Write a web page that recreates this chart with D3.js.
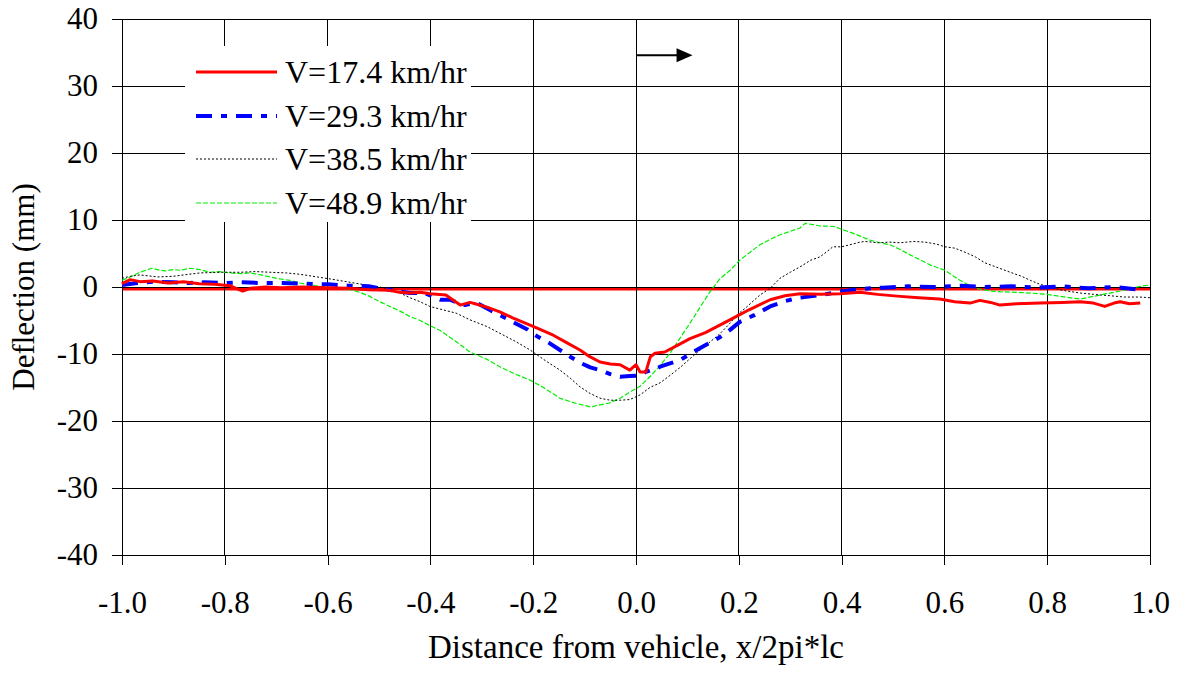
<!DOCTYPE html>
<html>
<head>
<meta charset="utf-8">
<script src="https://cdn.jsdelivr.net/npm/d3@7"></script>
<style>
  body { margin: 0; background: #fff; }
  svg { display: block; font-family: "Liberation Serif", "Times New Roman", serif; }
</style>
</head>
<body>
<svg id="chart" width="1182" height="680"></svg>
<script>
// ---- data ----
const xTicks = [-1.0, -0.8, -0.6, -0.4, -0.2, 0.0, 0.2, 0.4, 0.6, 0.8, 1.0];
const yTicks = [-40, -30, -20, -10, 0, 10, 20, 30, 40];

const seriesNames = ["V=17.4 km/hr", "V=29.3 km/hr", "V=38.5 km/hr", "V=48.9 km/hr"];

const redX = [-1.0, -0.984, -0.965, -0.94, -0.91, -0.88, -0.85, -0.82, -0.79, -0.775, -0.765, -0.75, -0.72, -0.69, -0.65, -0.6, -0.56, -0.52, -0.48, -0.46, -0.44, -0.42, -0.40, -0.37, -0.342, -0.323, -0.313, -0.29, -0.265, -0.24, -0.212, -0.19, -0.161, -0.135, -0.109, -0.09, -0.07, -0.05, -0.031, -0.012, 0.0, 0.008, 0.019, 0.028, 0.037, 0.056, 0.086, 0.105, 0.135, 0.163, 0.19, 0.22, 0.261, 0.29, 0.319, 0.36, 0.397, 0.436, 0.47, 0.514, 0.55, 0.591, 0.62, 0.65, 0.669, 0.69, 0.708, 0.74, 0.786, 0.83, 0.864, 0.89, 0.912, 0.93, 0.942, 0.96, 0.981];
const redY = [0.5, 1.1, 0.8, 0.9, 0.6, 0.8, 0.5, 0.4, 0.2, -0.3, -0.6, -0.2, 0.0, -0.1, 0.0, -0.1, -0.2, -0.4, -0.5, -0.8, -0.9, -0.8, -1.0, -1.2, -2.7, -2.3, -2.5, -3.0, -3.7, -4.6, -5.5, -6.2, -7.2, -8.3, -9.4, -10.4, -11.2, -11.5, -11.6, -12.4, -11.6, -12.7, -12.7, -10.4, -9.9, -9.7, -8.5, -7.7, -6.8, -5.7, -4.6, -3.4, -1.9, -1.3, -1.0, -1.1, -1.0, -0.8, -1.1, -1.4, -1.6, -1.8, -2.2, -2.4, -2.0, -2.3, -2.7, -2.5, -2.4, -2.3, -2.2, -2.4, -2.9, -2.4, -2.2, -2.5, -2.4];

const blueX = [-1.0, -0.97, -0.94, -0.9, -0.87, -0.84, -0.8, -0.77, -0.73, -0.69, -0.65, -0.6, -0.56, -0.52, -0.498, -0.479, -0.459, -0.44, -0.411, -0.381, -0.362, -0.342, -0.333, -0.313, -0.304, -0.285, -0.265, -0.235, -0.212, -0.196, -0.17, -0.148, -0.128, -0.109, -0.089, -0.07, -0.05, -0.031, -0.012, 0.008, 0.018, 0.035, 0.047, 0.066, 0.086, 0.105, 0.125, 0.144, 0.163, 0.183, 0.202, 0.23, 0.261, 0.29, 0.319, 0.358, 0.397, 0.436, 0.48, 0.53, 0.58, 0.63, 0.68, 0.73, 0.78, 0.83, 0.88, 0.93, 0.98];
const blueY = [0.3, 0.6, 0.8, 0.7, 0.6, 0.7, 0.6, 0.7, 0.6, 0.6, 0.5, 0.4, 0.2, 0.1, -0.2, -0.4, -0.7, -0.9, -0.9, -1.9, -1.9, -2.5, -2.7, -2.4, -2.6, -3.4, -4.2, -5.4, -6.3, -7.2, -8.3, -9.4, -10.4, -11.3, -12.0, -12.4, -13.0, -13.4, -13.3, -13.2, -12.7, -12.3, -11.9, -11.4, -10.9, -10.0, -9.1, -8.3, -7.5, -6.4, -5.2, -4.2, -2.9, -2.1, -1.6, -1.2, -0.7, -0.3, -0.1, 0.1, 0.0, 0.2, 0.0, 0.1, -0.1, 0.1, -0.2, 0.0, -0.4];

const blackX = [-1.0, -0.984, -0.965, -0.93, -0.9, -0.87, -0.848, -0.81, -0.77, -0.74, -0.712, -0.68, -0.654, -0.62, -0.595, -0.556, -0.518, -0.498, -0.479, -0.459, -0.44, -0.42, -0.401, -0.381, -0.35, -0.323, -0.29, -0.265, -0.235, -0.206, -0.18, -0.148, -0.128, -0.109, -0.089, -0.07, -0.05, -0.031, -0.012, 0.008, 0.027, 0.047, 0.066, 0.086, 0.105, 0.125, 0.144, 0.163, 0.183, 0.196, 0.215, 0.241, 0.261, 0.28, 0.30, 0.319, 0.34, 0.358, 0.37, 0.383, 0.40, 0.416, 0.436, 0.446, 0.47, 0.494, 0.514, 0.54, 0.562, 0.585, 0.601, 0.62, 0.64, 0.66, 0.679, 0.70, 0.728, 0.75, 0.767, 0.786, 0.805, 0.83, 0.864, 0.89, 0.922, 0.95, 0.98, 1.0];
const blackY = [1.3, 1.6, 1.8, 1.5, 1.6, 1.9, 2.1, 2.2, 2.2, 2.3, 2.2, 2.1, 1.9, 1.5, 1.2, 0.7, 0.2, 0.0, -0.5, -0.9, -1.6, -2.2, -2.9, -3.3, -3.9, -4.9, -5.9, -6.9, -8.1, -9.4, -10.8, -12.4, -13.6, -14.9, -15.9, -16.6, -16.9, -16.9, -16.8, -16.1, -15.0, -14.3, -13.2, -12.0, -10.7, -9.4, -8.2, -7.0, -5.4, -4.2, -3.0, -1.2, -0.2, 1.3, 2.2, 3.0, 4.0, 4.5, 5.2, 6.0, 6.0, 6.3, 6.7, 6.8, 6.6, 6.7, 6.6, 6.8, 6.7, 6.4, 6.0, 5.8, 5.2, 4.5, 3.6, 3.0, 2.2, 1.6, 1.0, 0.4, 0.0, -0.5, -0.9, -1.1, -1.3, -1.5, -1.5, -1.6];

const greenX = [-1.0, -0.984, -0.965, -0.942, -0.926, -0.916, -0.9, -0.887, -0.868, -0.848, -0.829, -0.81, -0.79, -0.77, -0.751, -0.73, -0.712, -0.693, -0.673, -0.654, -0.634, -0.615, -0.595, -0.575, -0.556, -0.537, -0.518, -0.498, -0.479, -0.459, -0.44, -0.42, -0.40, -0.381, -0.362, -0.342, -0.323, -0.29, -0.265, -0.235, -0.206, -0.18, -0.148, -0.12, -0.089, -0.07, -0.051, -0.031, -0.012, 0.008, 0.027, 0.047, 0.066, 0.086, 0.105, 0.125, 0.144, 0.163, 0.183, 0.202, 0.222, 0.241, 0.261, 0.28, 0.30, 0.319, 0.329, 0.345, 0.358, 0.373, 0.387, 0.40, 0.416, 0.436, 0.455, 0.475, 0.494, 0.514, 0.533, 0.552, 0.572, 0.601, 0.63, 0.66, 0.69, 0.708, 0.74, 0.767, 0.80, 0.825, 0.864, 0.903, 0.942, 0.981, 1.0];
const greenY = [1.0, 1.5, 2.2, 2.8, 2.5, 2.4, 2.6, 2.5, 2.8, 2.6, 2.2, 2.3, 2.1, 2.0, 2.1, 1.8, 1.5, 1.2, 1.0, 0.6, 0.3, 0.1, -0.1, -0.2, -0.4, -0.8, -1.4, -2.2, -2.9, -3.6, -4.4, -5.0, -5.8, -6.5, -7.5, -8.6, -9.7, -10.8, -11.9, -13.0, -13.9, -15.0, -16.6, -17.3, -17.9, -17.6, -17.3, -16.6, -15.7, -14.8, -13.4, -11.7, -9.9, -7.6, -5.4, -3.0, -0.7, 1.2, 2.5, 4.0, 5.2, 6.3, 7.1, 7.8, 8.3, 8.8, 9.5, 9.3, 9.1, 9.1, 9.0, 8.6, 8.2, 7.6, 7.0, 6.6, 6.3, 5.6, 4.8, 4.1, 3.3, 2.5, 1.0, -0.2, -0.6, -0.7, -0.8, -0.9, -1.1, -1.4, -1.8, -1.2, -0.6, 0.1, 0.3];

// red reference line along zero
const refX = [-1.0, 1.0];
const refY = [-0.28, -0.28];

// direction arrow (data coords)
const arrowX = [0.0, 0.11];
const arrowY = 34.6;

// ---- layout ----
const serif = "'Liberation Serif', 'Times New Roman', serif";
const svg = d3.select("#chart");
const margin = {top: 19, right: 32, bottom: 125, left: 122};
const width = 1182, height = 680;
const innerW = width - margin.left - margin.right;
const innerH = height - margin.top - margin.bottom;

const xScale = d3.scaleLinear().domain([-1, 1]).range([margin.left, margin.left + innerW]);
const yScale = d3.scaleLinear().domain([-40, 40]).range([margin.top + innerH, margin.top]);

const line = d3.line().x(d => xScale(d[0])).y(d => yScale(d[1]));
const zip = (xs, ys) => xs.map((x, i) => [x, ys[i]]);

// red zero reference sits under the grid
svg.append("path")
    .datum(zip(refX, refY))
    .attr("d", line)
    .attr("fill", "none").attr("stroke", "#ff0000").attr("stroke-width", 3);

// gridlines
const grid = svg.append("g").attr("id", "grid").attr("shape-rendering", "crispEdges");
grid.selectAll("line.v")
    .data(xTicks)
    .join("line")
    .attr("class", "v")
    .attr("x1", d => xScale(d)).attr("x2", d => xScale(d))
    .attr("y1", margin.top).attr("y2", margin.top + innerH)
    .attr("stroke", "#000").attr("stroke-width", 1);
grid.selectAll("line.h")
    .data(yTicks)
    .join("line")
    .attr("class", "h")
    .attr("x1", margin.left).attr("x2", margin.left + innerW)
    .attr("y1", d => yScale(d)).attr("y2", d => yScale(d))
    .attr("stroke", "#000").attr("stroke-width", 1);

// axes
const xAxis = svg.append("g")
    .attr("id", "x_axis")
    .attr("transform", `translate(0, ${margin.top + innerH})`)
    .call(d3.axisBottom(xScale).tickValues(xTicks).tickSize(10).tickPadding(26));
const yAxis = svg.append("g")
    .attr("id", "y_axis")
    .attr("transform", `translate(${margin.left}, 0)`)
    .call(d3.axisLeft(yScale).tickValues(yTicks).tickSize(10).tickPadding(14));

[xAxis, yAxis].forEach(ax => {
    ax.attr("font-family", serif).attr("font-size", 31);
    ax.selectAll("text").attr("fill", "#000");
    ax.selectAll("line").attr("stroke", "#000").attr("shape-rendering", "crispEdges");
    ax.select(".domain").attr("stroke", "#000").attr("shape-rendering", "crispEdges");
});
// hyphen-minus like the original
xAxis.selectAll("text").text(d => d.toFixed(1));
yAxis.selectAll("text").text(d => String(d));

// plot frame
svg.append("rect")
    .attr("x", margin.left).attr("y", margin.top)
    .attr("width", innerW).attr("height", innerH)
    .attr("fill", "none").attr("stroke", "#000").attr("stroke-width", 1)
    .attr("shape-rendering", "crispEdges");

const styles = [
    {color: "#ff0000", width: 3, dash: null},
    {color: "#0000ff", width: 4, dash: "16,9,6,9"},
    {color: "#000000", width: 1, dash: "2,2"},
    {color: "#00ee00", width: 1.2, dash: "5,2"}
];

const plot = svg.append("g").attr("id", "series");
const seriesData = [zip(redX, redY), zip(blueX, blueY), zip(blackX, blackY), zip(greenX, greenY)];
// draw in reverse so red ends up on top
[3, 2, 1, 0].forEach(i => {
    plot.append("path")
        .datum(seriesData[i])
        .attr("d", line)
        .attr("fill", "none")
        .attr("stroke", styles[i].color)
        .attr("stroke-width", styles[i].width)
        .attr("stroke-dasharray", styles[i].dash)
        .attr("stroke-linejoin", "round");
});

// arrow
const ax0 = xScale(arrowX[0]), ax1 = xScale(arrowX[1]), ay = yScale(arrowY);
svg.append("line")
    .attr("x1", ax0).attr("x2", ax1 - 14)
    .attr("y1", ay).attr("y2", ay)
    .attr("stroke", "#000").attr("stroke-width", 2);
svg.append("path")
    .attr("d", `M${ax1 - 16},${ay - 7} L${ax1},${ay} L${ax1 - 16},${ay + 7} Z`)
    .attr("fill", "#000");

// legend
const legend = svg.append("g").attr("id", "legend").attr("font-family", serif);
legend.append("rect")
    .attr("x", 185).attr("y", 46)
    .attr("width", 286).attr("height", 176)
    .attr("fill", "#fff");
const legendY = [72, 116, 159, 203];
seriesNames.forEach((name, i) => {
    legend.append("line")
        .attr("x1", 196).attr("x2", 277)
        .attr("y1", legendY[i]).attr("y2", legendY[i])
        .attr("stroke", styles[i].color)
        .attr("stroke-width", styles[i].width)
        .attr("stroke-dasharray", styles[i].dash);
    legend.append("text")
        .attr("x", 285).attr("y", legendY[i] + 11)
        .attr("font-size", 32)
        .attr("fill", "#000")
        .text(name);
});

// axis titles
svg.append("text")
    .attr("x", xScale(0)).attr("y", 658)
    .attr("text-anchor", "middle")
    .attr("font-family", serif)
    .attr("font-size", 33)
    .text("Distance from vehicle, x/2pi*lc");
svg.append("text")
    .attr("transform", `translate(34, ${yScale(0)}) rotate(-90)`)
    .attr("text-anchor", "middle")
    .attr("font-family", serif)
    .attr("font-size", 31)
    .text("Deflection (mm)");
</script>
</body>
</html>
